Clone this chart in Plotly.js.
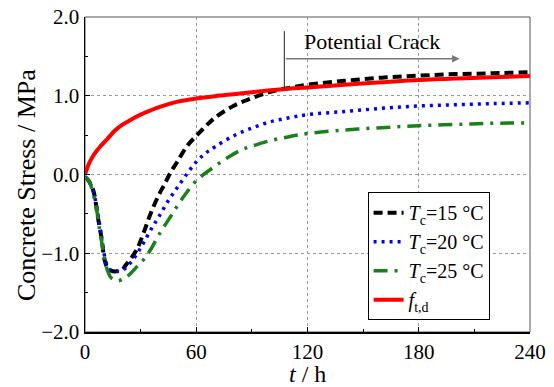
<!DOCTYPE html>
<html>
<head>
<meta charset="utf-8">
<script src="https://cdn.plot.ly/plotly-3.0.1.min.js"></script>
<style>html,body{margin:0;padding:0;background:#fff;}#chart{width:554px;height:387px;}</style>
</head>
<body>
<div id="chart"></div>
<script>
// ---- data ----
const tRed = [0,1,2,3,5,8,12,16,20,25,30,35,40,50,60,70,80,90,100,110,120,140,160,180,200,220,240];
const fRed = [0,0.07,0.13,0.18,0.26,0.35,0.45,0.555,0.63,0.70,0.76,0.81,0.855,0.925,0.965,0.995,1.02,1.045,1.07,1.09,1.105,1.14,1.17,1.20,1.22,1.235,1.25];

const t15 = [0,2,4,5,7,9,10.5,12,14,17,20,22,25,28,30,33,36,40,43,46,50,55,60,65,70,80,90,100,110,120,140,160,180,200,220,240];
const s15 = [-0.03,-0.08,-0.17,-0.25,-0.55,-0.82,-1.08,-1.18,-1.22,-1.23,-1.21,-1.15,-1.06,-0.95,-0.84,-0.65,-0.46,-0.25,-0.12,0.02,0.17,0.36,0.49,0.61,0.72,0.87,0.97,1.05,1.10,1.14,1.19,1.23,1.255,1.275,1.285,1.30];

const t20 = [0,2,4,6,8,10,12,14,17,20,23,26,29,32,36,40,45,50,55,60,65,70,80,90,100,110,120,140,160,180,200,220,240];
const s20 = [-0.03,-0.08,-0.18,-0.37,-0.66,-0.97,-1.16,-1.22,-1.23,-1.22,-1.16,-1.08,-0.97,-0.85,-0.68,-0.53,-0.33,-0.16,0.01,0.16,0.27,0.35,0.49,0.59,0.67,0.72,0.76,0.80,0.84,0.87,0.885,0.90,0.91];

const t25 = [0,2,3,6,8,10,12,14,16,18,21,24,28,32,36,40,46,52,60,68,76,84,90,100,110,120,140,160,180,200,220,240];
const s25 = [-0.03,-0.08,-0.13,-0.41,-0.72,-0.99,-1.21,-1.31,-1.34,-1.35,-1.32,-1.27,-1.17,-1.07,-0.93,-0.76,-0.54,-0.32,-0.08,0.07,0.20,0.31,0.36,0.43,0.48,0.52,0.565,0.595,0.62,0.635,0.65,0.655];

const seriesNames = ['<i>T</i><sub>c</sub>=15 °C','<i>T</i><sub>c</sub>=20 °C','<i>T</i><sub>c</sub>=25 °C','<i>f</i><sub>t,d</sub>'];
const xTickVals = [0,60,120,180,240];
const yTickVals = [-2,-1,0,1,2];
const xTitle = '<i>t</i> / h';
const yTitle = 'Concrete Stress / MPa';
const crackStart = 107.5;   // h, where the dashed curve crosses f_t,d
const crackEnd = 202;
const crackTop = 1.82, crackArrowY = 1.47, crackBase = 1.09;
const crackLabel = 'Potential Crack';

const FONT = 'Liberation Serif, Times New Roman, serif';

const traces = [
  {x:t15, y:s15, name:seriesNames[0], mode:'lines', line:{color:'#000000', width:4, dash:'9px,5px', shape:'spline'}},
  {x:t20, y:s20, name:seriesNames[1], mode:'lines', line:{color:'#0000ff', width:3.5, dash:'3px,5px', shape:'spline'}},
  {x:t25, y:s25, name:seriesNames[2], mode:'lines', line:{color:'#1a801a', width:3.5, dash:'14px,7px,3px,7px', shape:'spline'}},
  {x:tRed, y:fRed, name:seriesNames[3], mode:'lines', line:{color:'#ff0000', width:4, shape:'spline'}}
];

const axisCommon = {
  showline:true, linecolor:'#000', linewidth:1.5,
  ticks:'inside', ticklen:5, tickcolor:'#000', tickwidth:1,
  showgrid:true, gridcolor:'#999999', griddash:'dot', gridwidth:1,
  zeroline:false,
  tickfont:{family:FONT, size:21, color:'#000'}
};

const layout = {
  width:554, height:387,
  margin:{l:85, r:24, t:17, b:55},
  paper_bgcolor:'#fff', plot_bgcolor:'#fff',
  font:{family:FONT, color:'#000'},
  xaxis:Object.assign({}, axisCommon, {
    range:[0,240], tickvals:xTickVals,
    minor:{dtick:30, ticks:'inside', ticklen:3, tickcolor:'#000', showgrid:false}
  }),
  yaxis:Object.assign({}, axisCommon, {
    range:[-2,2], tickvals:yTickVals, tickformat:'.1f',
    minor:{dtick:0.5, ticks:'inside', ticklen:3, tickcolor:'#000', showgrid:false}
  }),
  legend:{
    x:0.635, y:0.444, xanchor:'left', yanchor:'top',
    bgcolor:'#fff', bordercolor:'#000', borderwidth:1,
    font:{family:FONT, size:20, color:'#000'},
    tracegroupgap:0
  },
  shapes:[
    {type:'rect', xref:'paper', yref:'paper', x0:0, x1:1, y0:0, y1:1, line:{color:'#555', width:1}, layer:'below'},
    {type:'line', xref:'x', yref:'y', x0:crackStart, x1:crackStart, y0:crackBase, y1:crackTop, line:{color:'#222', width:1}}
  ],
  annotations:[
    {x:crackEnd, y:crackArrowY, ax:crackStart, ay:crackArrowY, xref:'x', yref:'y', axref:'x', ayref:'y',
     text:'', showarrow:true, arrowhead:2, arrowsize:1, arrowwidth:1.5, arrowcolor:'#777'},
    {x:(crackStart+crackEnd)/2, y:1.69, xref:'x', yref:'y', text:crackLabel, showarrow:false,
     font:{family:FONT, size:22, color:'#000'}},
    {x:-0.13, y:0.467, xref:'paper', yref:'paper', xanchor:'center', yanchor:'middle',
     text:yTitle, textangle:-90, showarrow:false, font:{family:FONT, size:26, color:'#000'}},
    {x:0.5, y:-0.133, xref:'paper', yref:'paper', xanchor:'center', yanchor:'middle',
     text:xTitle, showarrow:false, font:{family:FONT, size:24, color:'#000'}}
  ],
  showlegend:true
};

Plotly.newPlot('chart', traces, layout, {displayModeBar:false, staticPlot:true});
</script>
</body>
</html>
